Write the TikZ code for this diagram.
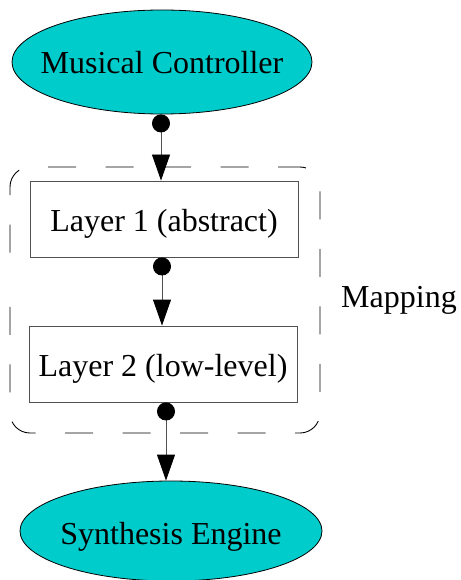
\documentclass[tikz,border=0pt]{standalone}
\usepackage{fontspec}
\setmainfont{Liberation Serif}
\usetikzlibrary{shapes.geometric,arrows.meta}
\definecolor{cyanfill}{RGB}{0,204,204}
\definecolor{linegray}{RGB}{80,80,80}
\begin{document}
\begin{tikzpicture}[x=1pt,y=-1pt,
  lbl/.style={font=\fontsize{32}{38}\selectfont,text height=25pt,text depth=1pt},
  oval/.style={ellipse,draw=black,line width=0.8pt,fill=cyanfill,inner sep=0pt,lbl},
  layerbox/.style={rectangle,draw=linegray,line width=0.9pt,minimum width=268pt,minimum height=76pt,inner sep=0pt,lbl},
  conn/.style={draw=linegray,line width=0.9pt,
    {Circle[length=18pt,color=black]}-{Triangle[length=26pt,width=18pt,color=black]}},
  groupbox/.style={draw=black,line width=0.9pt,rounded corners=20pt,dash pattern=on 28pt off 29.5pt,dash phase=30pt}
]
\useasboundingbox (0,0) rectangle (460,580);
\begin{scope}
\clip (0,0) rectangle (460,580);
\node[oval,minimum width=300pt,minimum height=104pt] (mc) at (162,62) {\makebox[0pt]{Musical Controller}};
\node[layerbox] (l1) at (164,219) {Layer 1 (abstract)};
\node[layerbox] (l2) at (163,364) {Layer 2 (low-level)};
\node[oval,minimum width=302pt,minimum height=100pt,text height=27pt] (se) at (171,531) {\makebox[0pt]{Synthesis Engine}};
\draw[groupbox] (10,300) -- (10,167) -- (320,167) -- (320,433) -- (10,433) -- cycle;
\node[lbl] (map) at (399,295) {Mapping};
\draw[conn] ([xshift=-1pt]mc.south) -- ([xshift=-1pt]mc.south |- l1.north);
\draw[conn] ([xshift=-2pt]l1.south) -- ([xshift=-2pt]l1.south |- l2.north);
\coordinate (c3) at ([xshift=3pt]l2.south);
\draw[conn] (c3) -- (c3 |- se.north);
\end{scope}
\end{tikzpicture}
\end{document}
